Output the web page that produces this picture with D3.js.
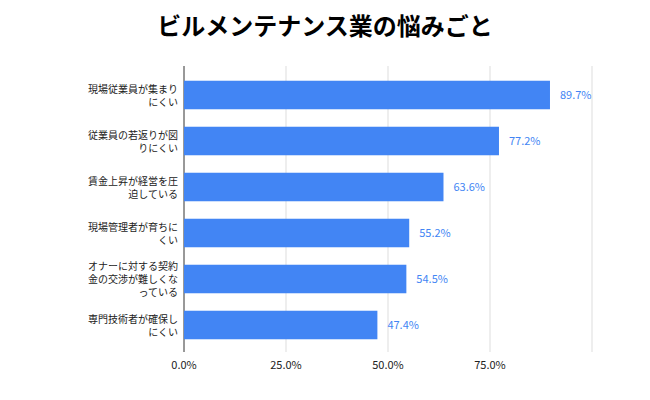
<!DOCTYPE html>
<html><head><meta charset="utf-8">
<script src="https://cdn.jsdelivr.net/npm/d3@7.9.0/dist/d3.min.js"></script>
<style>body{margin:0;background:#fff;font-family:"Noto Sans CJK JP","Noto Sans",sans-serif;}</style>
</head><body><svg id="chart" width="650" height="400"></svg>
<script>
const cats = [
  ['現場従業員が集まり', 'にくい'],
  ['従業員の若返りが図', 'りにくい'],
  ['賃金上昇が経営を圧', '迫している'],
  ['現場管理者が育ちに', 'くい'],
  ['オナーに対する契約', '金の交渉が難しくな', 'っている'],
  ['専門技術者が確保し', 'にくい']
];
const vals = [89.7, 77.2, 63.6, 55.2, 54.5, 47.4];
const tickVals = [0, 25, 50, 75, 100];

const svg = d3.select('#chart');
const x = d3.scaleLinear().domain([0, 100]).range([184, 592]);
const y = d3.scaleBand().domain(d3.range(cats.length)).range([72, 348]).paddingInner(0.38).paddingOuter(0.19);

svg.append('text').attr('x', 325).attr('y', 35).attr('text-anchor', 'middle')
  .attr('font-size', 24).attr('font-weight', 'bold').attr('fill', '#000')
  .text('ビルメンテナンス業の悩みごと');

tickVals.forEach(t => {
  svg.append('line').attr('x1', x(t)).attr('x2', x(t)).attr('y1', 66).attr('y2', 352)
    .attr('stroke', t === 0 ? '#333' : '#ddd').attr('stroke-width', 1);
  if (t < 100) svg.append('text').attr('x', x(t)).attr('y', 369).attr('text-anchor', 'middle')
    .attr('font-size', 11).attr('fill', '#222').text(t.toFixed(1) + '%');
});

vals.forEach((v, i) => {
  svg.append('rect').attr('x', x(0)).attr('y', y(i)).attr('width', x(v) - x(0))
    .attr('height', y.bandwidth()).attr('fill', '#4285f4');
  svg.append('text').attr('x', x(v) + 10).attr('y', y(i) + y.bandwidth() / 2 + 4)
    .attr('font-size', 11).attr('fill', '#4285f4').text(v.toFixed(1) + '%');
  const lines = cats[i];
  const cy = y(i) + y.bandwidth() / 2;
  lines.forEach((l, j) => {
    svg.append('text').attr('x', 178).attr('y', cy + (j - (lines.length - 1) / 2) * 13 + 4)
      .attr('text-anchor', 'end').attr('font-size', 10).attr('fill', '#222').text(l);
  });
});
</script></body></html>
